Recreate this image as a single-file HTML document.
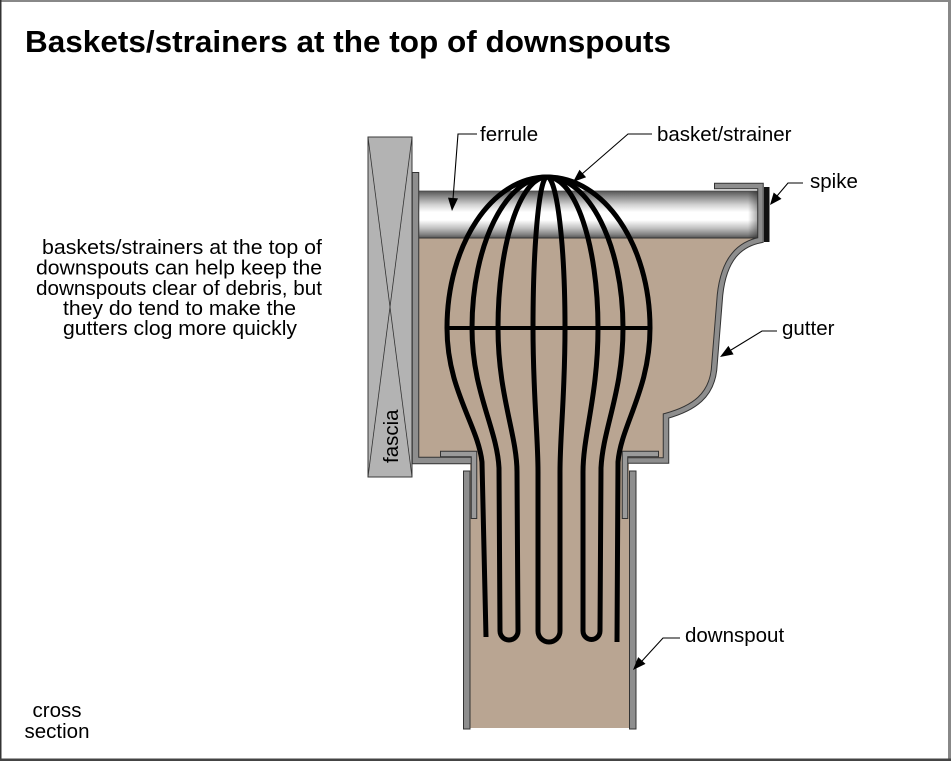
<!DOCTYPE html>
<html>
<head>
<meta charset="utf-8">
<style>
  html, body { margin: 0; padding: 0; background: #fff; }
  body { width: 951px; height: 761px; overflow: hidden; }
  svg { display: block; }
  text { font-family: "Liberation Sans", Arial, Helvetica, sans-serif; fill: #000; }
</style>
</head>
<body>
<svg width="951" height="761" viewBox="0 0 951 761" xmlns="http://www.w3.org/2000/svg">
  <defs>
    <linearGradient id="fer" x1="0" y1="0" x2="0" y2="1">
      <stop offset="0" stop-color="#555"/>
      <stop offset="0.12" stop-color="#8a8a8a"/>
      <stop offset="0.30" stop-color="#d4d4d4"/>
      <stop offset="0.45" stop-color="#ffffff"/>
      <stop offset="0.62" stop-color="#ffffff"/>
      <stop offset="0.80" stop-color="#bdbdbd"/>
      <stop offset="0.92" stop-color="#858585"/>
      <stop offset="1" stop-color="#555"/>
    </linearGradient>
    <linearGradient id="ferend" x1="0" y1="0" x2="1" y2="0">
      <stop offset="0" stop-color="#000" stop-opacity="0"/>
      <stop offset="1" stop-color="#000" stop-opacity="0.35"/>
    </linearGradient>
  </defs>

  <!-- background & frame -->
  <rect x="0" y="0" width="951" height="761" fill="#fff"/>
  <rect x="0" y="0" width="951" height="2" fill="#888"/>
  <rect x="948" y="0" width="3" height="761" fill="#888"/>
  <rect x="0" y="0" width="1.5" height="761" fill="#333"/>
  <rect x="0" y="758.5" width="951" height="2.5" fill="#444"/>

  <!-- title -->
  <text x="25" y="52" font-size="31" font-weight="bold" textLength="646" lengthAdjust="spacingAndGlyphs">Baskets/strainers at the top of downspouts</text>

  <!-- paragraph -->
  <g font-size="20.5" text-anchor="middle">
    <text x="182" y="254" textLength="280" lengthAdjust="spacingAndGlyphs">baskets/strainers at the top of</text>
    <text x="179" y="274.5" textLength="286" lengthAdjust="spacingAndGlyphs">downspouts can help keep the</text>
    <text x="179" y="295" textLength="286" lengthAdjust="spacingAndGlyphs">downspouts clear of debris, but</text>
    <text x="179.5" y="315" textLength="233" lengthAdjust="spacingAndGlyphs">they do tend to make the</text>
    <text x="180" y="335" textLength="234" lengthAdjust="spacingAndGlyphs">gutters clog more quickly</text>
  </g>

  <!-- cross section -->
  <g font-size="20.5" text-anchor="middle">
    <text x="57" y="717">cross</text>
    <text x="57" y="738">section</text>
  </g>

  <!-- fascia -->
  <rect x="368" y="137" width="44" height="340" fill="#b3b3b3" stroke="#3a3a3a" stroke-width="1"/>
  <line x1="368" y1="137" x2="412" y2="477" stroke="#333" stroke-width="0.8"/>
  <line x1="412" y1="137" x2="368" y2="477" stroke="#333" stroke-width="0.8"/>
  <text transform="translate(398,463) rotate(-90)" font-size="20.5">fascia</text>

  <!-- brown fill (water/debris) -->
  <path d="M418 238 L418 460 L470 460 L470 728 L629 728 L629 460 L666 460 L666 416
           C695 408 711 395 714 370 L720 295 C724 258 740 244 761 240 L761 238 Z"
        fill="#b9a592"/>

  <!-- ferrule -->
  <rect x="419" y="191" width="339" height="47" fill="url(#fer)"/>
  <rect x="748" y="191" width="10" height="47" fill="url(#ferend)"/>
  <line x1="419" y1="191" x2="758" y2="191" stroke="#444" stroke-width="0.8"/>
  <line x1="419" y1="238" x2="758" y2="238" stroke="#333" stroke-width="1"/>

  <!-- gutter body -->
  <g fill="none" stroke-linejoin="miter">
    <path d="M415.5 172 V460.5 H471" stroke="#333" stroke-width="7.5"/>
    <path d="M415.5 173 V460.5 H471" stroke="#8e8e8e" stroke-width="5.5"/>
    <path d="M628 460.5 H666 V416 C695 408 711 395 714 370 L720 295 C724 258 740 244 760.5 240 V186 H714"
          stroke="#333" stroke-width="6.5"/>
    <path d="M628 460.5 H666 V416 C695 408 711 395 714 370 L720 295 C724 258 740 244 760.5 240 V186 H715"
          stroke="#8e8e8e" stroke-width="4.5"/>
    <path d="M440 454 H474 V519" stroke="#333" stroke-width="6.5"/>
    <path d="M441 454 H474 V518" stroke="#9a9a9a" stroke-width="4.5"/>
    <path d="M659 454 H625 V519" stroke="#333" stroke-width="6.5"/>
    <path d="M658 454 H625 V518" stroke="#9a9a9a" stroke-width="4.5"/>
  </g>

  <!-- downspout walls -->
  <rect x="463.5" y="471" width="6.5" height="258" fill="#8e8e8e" stroke="#333" stroke-width="1"/>
  <rect x="629.5" y="471" width="6.5" height="258" fill="#8e8e8e" stroke="#333" stroke-width="1"/>

  <!-- spike head -->
  <rect x="764" y="187" width="5.5" height="55" fill="#111"/>

  <!-- basket wires -->
  <g fill="none" stroke="#000" stroke-width="5" stroke-linecap="butt" stroke-linejoin="round">
    <path d="M547 177 C491.8 177 447 244.6 447 328 C447 390 478 425 482 462 L486 637"/>
    <path d="M547 177 C505.6 177 472 244.6 472 328 C472 392 497 428 499 468 L500 631"/>
    <path d="M547 177 C519.9 177 498 244.6 498 328 C498 395 517 435 517 472 L518 631"/>
    <path d="M547 177 C539.3 177 533 244.6 533 328 C533 395 538 435 538 472 L538 631"/>
    <path d="M547 177 C556.9 177 565 244.6 565 328 C565 395 560 435 560 472 L560 631"/>
    <path d="M547 177 C575.2 177 598 244.6 598 328 C598 395 583 435 583 472 L583 631"/>
    <path d="M547 177 C589 177 623 244.6 623 328 C623 392 603 428 601 468 L600 631"/>
    <path d="M547 177 C603.9 177 650 244.6 650 328 C650 390 621 425 618 462 L617 642"/>
    <path d="M500 631 A9 9 0 0 0 518 631"/>
    <path d="M538 631 A11 11 0 0 0 560 631"/>
    <path d="M583 631 A8.5 8.5 0 0 0 600 631"/>
  </g>
  <line x1="447" y1="328" x2="650" y2="328" stroke="#000" stroke-width="4"/>

  <!-- leaders -->
  <g fill="none" stroke="#000" stroke-width="1.1">
    <path d="M477 134 H458 L453 199"/>
    <path d="M652 134 H628 L582 174"/>
    <path d="M803 183 H788 L777 196"/>
    <path d="M777 331 H762 L731 350"/>
    <path d="M680 638 H663 L642 661"/>
  </g>
  <g fill="#000">
    <polygon points="452,211 458,198.4 448,197.6"/>
    <polygon points="573,182 586.1,177.3 579.5,169.7"/>
    <polygon points="770,205 781.5,198.9 773.7,192.5"/>
    <polygon points="720,357 733.6,354.4 728.4,345.9"/>
    <polygon points="633,670 645.5,663.9 638.2,657.1"/>
  </g>

  <!-- labels -->
  <g font-size="20.5">
    <text x="480" y="141">ferrule</text>
    <text x="657" y="141">basket/strainer</text>
    <text x="810" y="188">spike</text>
    <text x="782" y="335">gutter</text>
    <text x="685" y="642">downspout</text>
  </g>
</svg>
</body>
</html>
